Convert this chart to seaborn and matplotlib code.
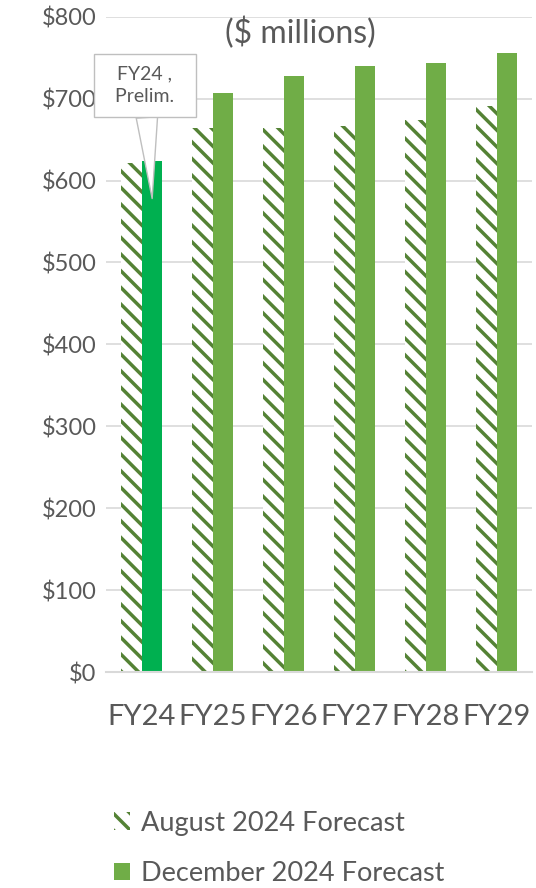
import matplotlib
matplotlib.use("Agg")
import matplotlib.pyplot as plt
import seaborn as sns
import pandas as pd
from matplotlib.patches import Patch

# ---- data ----
years = ["FY24", "FY25", "FY26", "FY27", "FY28", "FY29"]
aug_2024 = [621, 664, 664, 666, 674, 691]
dec_2024 = [624, 707, 728, 740, 744, 756]
series_names = ["August 2024 Forecast", "December 2024 Forecast"]
y_ticks = [0, 100, 200, 300, 400, 500, 600, 700, 800]
y_tick_labels = [f"${v}" for v in y_ticks]
title_text = "($ millions)"
callout_text = "  FY24 ,  \n  Prelim.  "

# ---- styles ----
TEXT = "#595959"
GRID = "#d9d9d9"
HATCH = "#548235"
DEC = "#70AD47"
DEC_FY24 = "#00B050"
HATCH_PATTERN = "\\\\"

df = pd.DataFrame({
    "year": years * 2,
    "series": [series_names[0]] * len(years) + [series_names[1]] * len(years),
    "value": aug_2024 + dec_2024,
})

sns.set_theme(style="white")
plt.rcParams["font.family"] = ["Lato", "DejaVu Sans"]
plt.rcParams["hatch.linewidth"] = 2.5

fig = plt.figure(figsize=(5.36, 8.88), dpi=100)
ax = fig.add_axes([0.198, 0.2432, 0.795, 0.738])

sns.barplot(data=df, x="year", y="value", hue="series", order=years,
            hue_order=series_names, palette=["white", DEC], width=0.58,
            gap=0, saturation=1, errorbar=None, legend=False, ax=ax)

for bar in ax.containers[0]:
    bar.set_facecolor("white")
    bar.set_edgecolor(HATCH)
    bar.set_hatch(HATCH_PATTERN)
    bar.set_linewidth(0)
for i, bar in enumerate(ax.containers[1]):
    bar.set_facecolor(DEC_FY24 if i == 0 else DEC)
    bar.set_linewidth(0)

ax.set_xlim(-0.5, len(years) - 0.5)
ax.set_ylim(0, 800)
ax.set_yticks(y_ticks)
ax.set_yticklabels(y_tick_labels)
ax.set_xlabel("")
ax.set_ylabel("")
ax.yaxis.grid(True, color=GRID, lw=1.2)
ax.set_axisbelow(True)
for s in ["top", "left", "right"]:
    ax.spines[s].set_visible(False)
ax.spines["bottom"].set_color(GRID)
ax.spines["bottom"].set_linewidth(1.5)
ax.tick_params(axis="y", length=0, pad=7, labelsize=17, labelcolor=TEXT)
ax.tick_params(axis="x", length=0, pad=23, labelsize=21, labelcolor=TEXT)

ax.text(0.455, 0.975, title_text, transform=ax.transAxes, ha="center",
        va="center", fontsize=23, color=TEXT)

ax.annotate(callout_text, xy=(0.148, 578), xytext=(0.045, 716),
            ha="center", va="center", fontsize=14, color=TEXT,
            linespacing=1.4, multialignment="center",
            bbox=dict(boxstyle="square,pad=0.6", fc="white", ec="#bfbfbf", lw=1),
            arrowprops=dict(arrowstyle="wedge,tail_width=1.1", fc="white",
                            ec="#bfbfbf", lw=1, shrinkA=0, shrinkB=0))

handles = [Patch(facecolor="white", edgecolor=HATCH, hatch=HATCH_PATTERN, lw=0),
           Patch(facecolor=DEC, lw=0)]
fig.legend(handles, series_names, loc="upper left",
           bbox_to_anchor=(100 / 536, 1 - 797 / 888), frameon=False,
           fontsize=19.5, labelcolor=TEXT, handlelength=0.6, handleheight=0.6,
           handletextpad=0.4, labelspacing=0.95, borderpad=0)

fig.savefig("out.png", dpi=100)
